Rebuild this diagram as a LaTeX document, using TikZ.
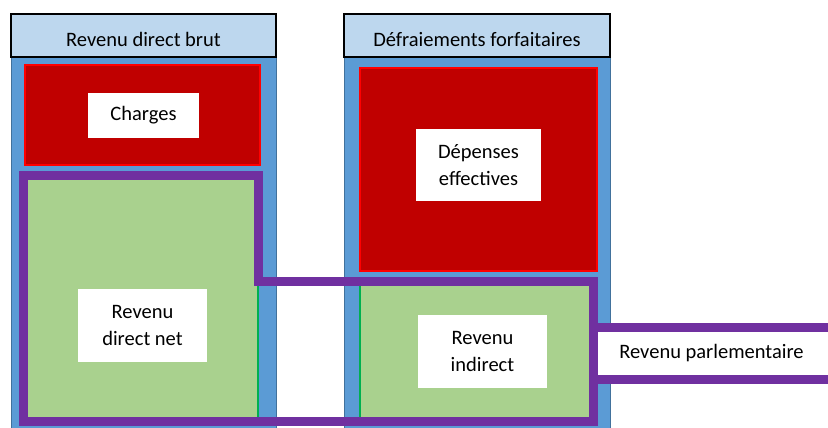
\documentclass[tikz,border=0pt]{standalone}
\usepackage{fontspec}
\setmainfont{Carlito}
\usepackage{tikz}
\definecolor{headblue}{HTML}{BDD7EE}
\definecolor{colblue}{HTML}{5B9BD5}
\definecolor{coledge}{HTML}{41719C}
\definecolor{costred}{HTML}{C00000}
\definecolor{gaingreen}{HTML}{A9D18E}
\definecolor{gainedge}{HTML}{00B050}
\definecolor{revpurple}{HTML}{7030A0}

\begin{document}
\begin{tikzpicture}[x=1pt, y=-1pt,
    every node/.style={font=\fontsize{20.5}{27}\selectfont, inner sep=0pt, outer sep=0pt},
    header/.style={draw=black, line width=1.5pt, fill=headblue, minimum height=43pt, text height=22pt, text depth=0pt},
    column/.style={draw=coledge, line width=1pt, fill=colblue, minimum height=375pt},
    cost/.style={draw=red, line width=1.5pt, fill=costred},
    gain/.style={draw=gainedge, line width=1.5pt, fill=gaingreen},
    tag/.style={fill=white, align=center},
    bound/.style={draw=revpurple, line width=9pt}]

        \useasboundingbox (0,0) rectangle (828,428);
        \clip (0,0) rectangle (828,428);

            % columns
            \node[column, minimum width=265pt] (C1) at (143.5,244.5) {};
            \node[column, minimum width=266pt] (C2) at (477,244.5) {};
            \node[header, minimum width=265pt] (H1) at (143.5,35.5) {Revenu direct brut};
            \node[header, minimum width=266pt] (H2) at (477,35.5) {Défraiements forfaitaires};

            % blocks
            \node[cost, minimum width=235pt, minimum height=100pt] (R1) at (142.5,115) {};
            \node[cost, minimum width=237pt, minimum height=203pt] (R2) at (478.5,169.5) {};
            \node[gain, minimum width=234pt, minimum height=244pt] (G1) at (141,298) {};
            \node[gain, minimum width=233pt, minimum height=138pt] (G2) at (476.5,351) {};

            % labels
            \node[tag, minimum width=111pt, minimum height=45pt] (L1) at (143.5,115.5) {Charges};
            \node[tag, minimum width=129pt, minimum height=73pt] (L2) at (142.5,325.5) {Revenu\\direct net};
            \node[tag, minimum width=125pt, minimum height=72pt] (L3) at (478.5,165) {Dépenses\\effectives};
            \node[tag, minimum width=129pt, minimum height=73pt] (L4) at (482.5,351.5) {Revenu\\indirect};

            % revenu parlementaire
            \node[tag, minimum width=237pt, minimum height=52pt] (P) at (711.5,353) {Revenu parlementaire};
            \draw[bound] (23,175) -- (258,175) -- (258,281) -- (593,281) -- (593,421) -- (23,421) -- cycle;
            \draw[bound] (P.north west) -- (P.north east);
            \draw[bound] (P.south west) -- (P.south east);

        \end{tikzpicture}
\end{document}
